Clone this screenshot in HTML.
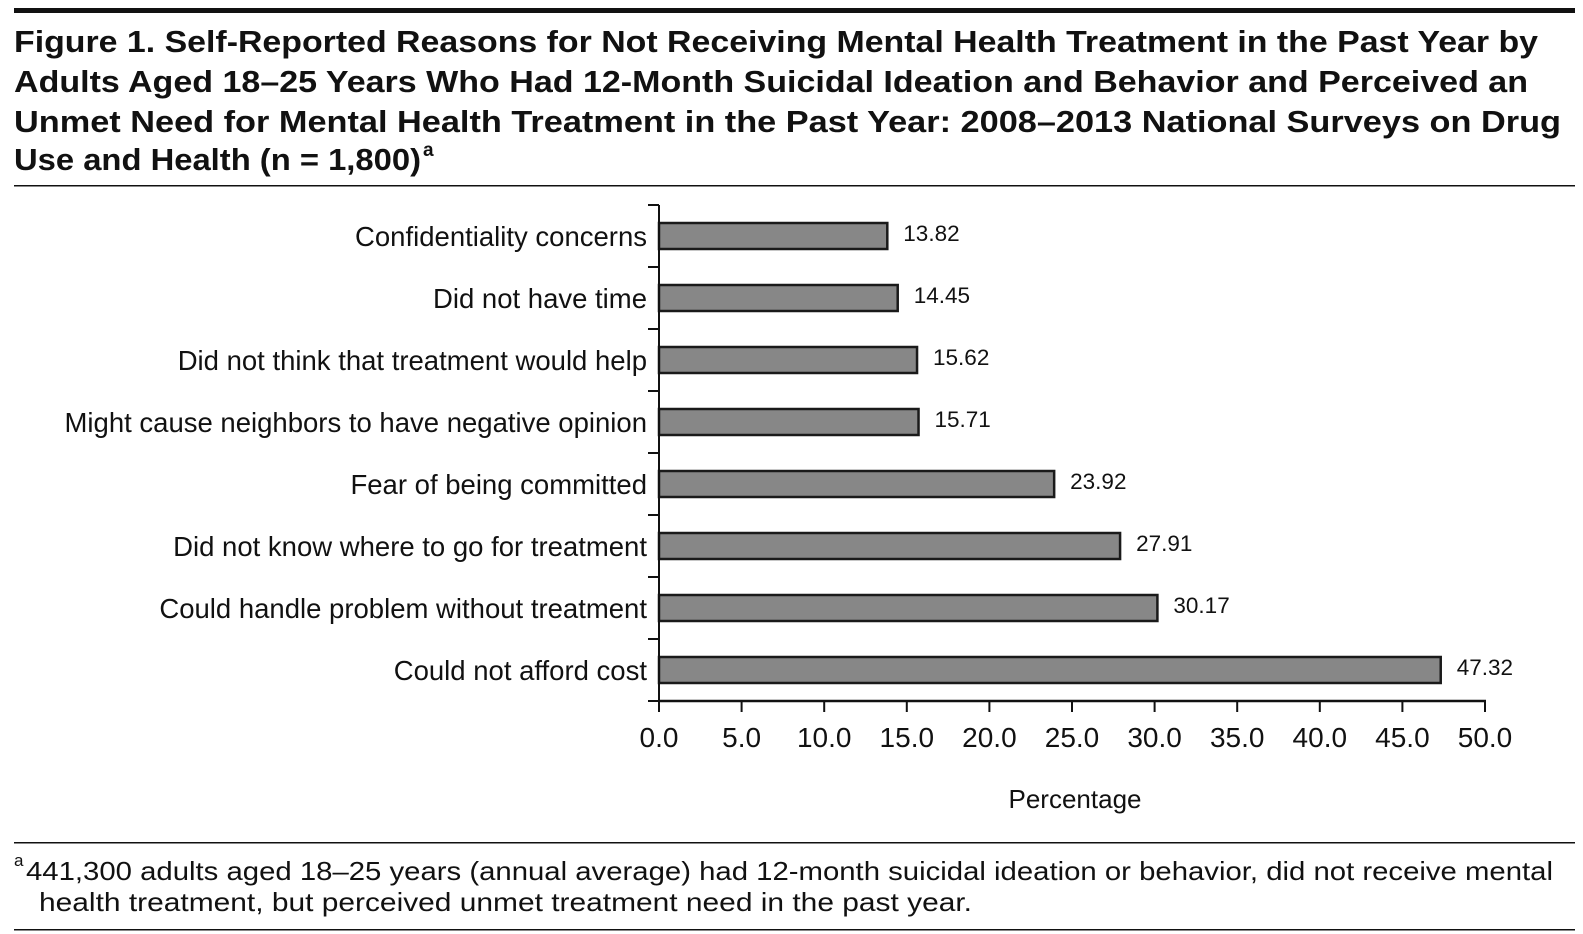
<!DOCTYPE html>
<html><head><meta charset="utf-8"><style>
html,body{margin:0;padding:0;background:#fff}
svg{display:block;font-family:"Liberation Sans",sans-serif}
</style></head><body>
<svg id="fig" width="1583" height="934" viewBox="0 0 1583 934">
<rect x="14" y="8" width="1561" height="5" fill="#111"/>
<g font-weight="bold" font-size="31" fill="#111">
<text x="14" y="52" textLength="1524" lengthAdjust="spacingAndGlyphs">Figure 1. Self-Reported Reasons for Not Receiving Mental Health Treatment in the Past Year by</text>
<text x="14" y="92" textLength="1514" lengthAdjust="spacingAndGlyphs">Adults Aged 18–25 Years Who Had 12-Month Suicidal Ideation and Behavior and Perceived an</text>
<text x="14" y="132" textLength="1547" lengthAdjust="spacingAndGlyphs">Unmet Need for Mental Health Treatment in the Past Year: 2008–2013 National Surveys on Drug</text>
<text x="14" y="170" textLength="407" lengthAdjust="spacingAndGlyphs">Use and Health (n = 1,800)</text>
<text x="423" y="156" font-size="19">a</text>
</g>
<rect x="14" y="185" width="1561" height="1.5" fill="#111"/>
<g id="chart"></g>
<text x="1075" y="808" font-size="26" text-anchor="middle" fill="#111">Percentage</text>
<rect x="14" y="842" width="1561" height="1.5" fill="#111"/>
<g font-size="26" fill="#111">
<text x="14" y="866" font-size="17">a</text>
<text x="26" y="880" textLength="1527" lengthAdjust="spacingAndGlyphs">441,300 adults aged 18–25 years (annual average) had 12-month suicidal ideation or behavior, did not receive mental</text>
<text x="39" y="911" textLength="933" lengthAdjust="spacingAndGlyphs">health treatment, but perceived unmet treatment need in the past year.</text>
</g>
<rect x="14" y="929" width="1561" height="1.5" fill="#111"/>
</svg>
<script>
const categories = ["Confidentiality concerns","Did not have time","Did not think that treatment would help","Might cause neighbors to have negative opinion","Fear of being committed","Did not know where to go for treatment","Could handle problem without treatment","Could not afford cost"];
const values = [13.82,14.45,15.62,15.71,23.92,27.91,30.17,47.32];
const xTicks = [0,5,10,15,20,25,30,35,40,45,50];
const NS="http://www.w3.org/2000/svg";
const g=document.getElementById('chart');
const x0=659,xMax=50,plotW=826,yTop=205,rowH=62;
const xs=v=>x0+v/xMax*plotW;
const yc=i=>yTop+rowH*(i+0.5);
const yBottom=yTop+rowH*categories.length;
function mk(tag,attrs){const e=document.createElementNS(NS,tag);for(const k in attrs)e.setAttribute(k,attrs[k]);g.appendChild(e);return e;}
categories.forEach((c,i)=>{
  const b=mk('rect',{x:xs(0),y:yc(i)-13,width:xs(values[i])-xs(0),height:26,fill:'#878787',stroke:'#1a1a1a','stroke-width':2.5});
  
  
  const l=mk('text',{x:647,y:yc(i)+10,'text-anchor':'end','font-size':27.5,fill:'#111'});
  l.textContent=c;
  
  
  const v=mk('text',{x:xs(values[i])+16,y:yc(i)+5,'font-size':22.5,fill:'#111'});
  v.textContent=values[i].toFixed(2);
  
  
});
for(let i=0;i<=categories.length;i++){
  const t=mk('line',{x1:648,x2:x0,y1:yTop+rowH*i,y2:yTop+rowH*i,stroke:'#111','stroke-width':2});
  
  
}
const ya=mk('line',{x1:x0,x2:x0,y1:yTop,y2:yBottom,stroke:'#111','stroke-width':2});


const xa=mk('line',{x1:x0-1,x2:xs(xMax)+1,y1:yBottom,y2:yBottom,stroke:'#111','stroke-width':2.5});


xTicks.forEach(t=>{
  const tk=mk('line',{x1:xs(t),x2:xs(t),y1:yBottom,y2:yBottom+11,stroke:'#111','stroke-width':2});
  
  
  const tl=mk('text',{x:xs(t),y:747,'text-anchor':'middle','font-size':28,fill:'#111'});
  tl.textContent=t.toFixed(1);
  
  
});
</script>
</body></html>
